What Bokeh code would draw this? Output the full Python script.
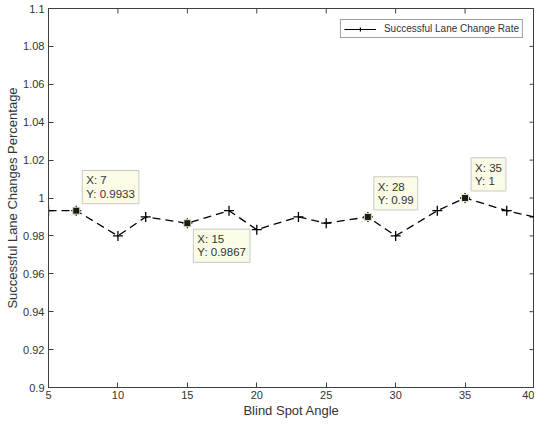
import math
from bokeh.plotting import figure
from bokeh.models import (FixedTicker, CustomJSTickFormatter, Legend,
                          LegendItem, ColumnDataSource, Range1d)
from bokeh.embed import file_html
from bokeh.resources import INLINE
from bokeh.core.properties import value

# ---- data ----
angles = [5, 7, 10, 12, 15, 18, 20, 23, 25, 28, 30, 33, 35, 38, 40]
rates = [0.9933, 0.9933, 0.98, 0.99, 0.9867, 0.9933, 0.9833, 0.99,
         0.9867, 0.99, 0.98, 0.9933, 1.0, 0.9933, 0.99]
x_ticks = [5, 10, 15, 20, 25, 30, 35, 40]
y_ticks = [0.9, 0.92, 0.94, 0.96, 0.98, 1.0, 1.02, 1.04, 1.06, 1.08, 1.1]
tips_above = [7, 28, 35]
tips_below = [15]
series_name = "Successful Lane Change Rate"
x_label = "Blind Spot Angle"
y_label = "Successful Lane Changes Percentage"

FONT = "Liberation Sans"
AX = "#404040"
TXT = "#333333"
X0, X1 = x_ticks[0], x_ticks[-1]
Y0, Y1 = y_ticks[0], y_ticks[-1]

p = figure(width=534, height=420, output_backend="svg", toolbar_location=None,
           x_range=Range1d(X0, X1), y_range=Range1d(Y0, Y1),
           min_border_left=48, min_border_right=0, min_border_top=8,
           min_border_bottom=10, background_fill_color="white",
           border_fill_color="white")
p.grid.visible = False
p.outline_line_color = AX

fmt = CustomJSTickFormatter(code="return tick.toFixed(2).replace(/0+$/,'').replace(/\\.$/,'');")

for ax in (p.xaxis[0], p.yaxis[0]):
    ax.axis_line_color = AX
    ax.major_tick_line_color = AX
    ax.major_tick_in = 5
    ax.major_tick_out = 0
    ax.minor_tick_line_color = None
    ax.major_label_text_font = FONT
    ax.major_label_text_color = TXT
    ax.major_label_text_font_size = "11px"
    ax.major_label_standoff = 4
    ax.axis_label_text_font = FONT
    ax.axis_label_text_color = TXT
    ax.axis_label_text_font_style = "normal"
    ax.axis_label_text_font_size = "13px"
    ax.axis_label_standoff = 2

p.xaxis.ticker = FixedTicker(ticks=x_ticks)
p.yaxis.ticker = FixedTicker(ticks=y_ticks)
p.yaxis.formatter = fmt
p.xaxis.axis_label = x_label
p.yaxis.axis_label = y_label
p.yaxis[0].axis_label_standoff = 0
p.xaxis[0].major_label_standoff = 3
p.xaxis[0].axis_label_standoff = 1

# ticks on top and right edges (box on), pointing inwards
p.ray(x=x_ticks, y=[Y1] * len(x_ticks), length=5, length_units="screen",
      angle=-math.pi / 2, line_color=AX, line_width=1)
p.ray(x=[X1] * len(y_ticks), y=y_ticks, length=5, length_units="screen",
      angle=math.pi, line_color=AX, line_width=1)

src = ColumnDataSource(dict(x=angles, y=rates))
p.line("x", "y", source=src, line_color="black", line_width=1.3, line_dash="8 5")
p.scatter("x", "y", source=src, marker="cross", size=10, line_color="black", line_width=1.3)

# legend-only renderers (solid sample)
leg_line = p.line("x", "y", source=src, line_color="black", line_width=1.2, visible=False)
leg_mark = p.scatter("x", "y", source=src, marker="cross", size=10,
                     line_color="black", line_width=1.2, visible=False)

def tip_source(sel):
    ys = [rates[angles.index(a)] for a in sel]
    txt = [f"X: {a:g}\nY: {r:g}" for a, r in zip(sel, ys)]
    return ColumnDataSource(dict(x=list(sel), y=ys, t=txt))

all_tips = tip_source(tips_above + tips_below)
p.scatter("x", "y", source=all_tips, marker="square", size=7, fill_color="#1a1a1a",
          line_color="#e6e2b8", line_width=1)

for sel, anchor, yoff in ((tips_above, "bottom_left", -7), (tips_below, "top_left", 6)):
    s = tip_source(sel)
    p.text("x", "y", text="t", source=s, anchor=anchor, x_offset=6, y_offset=yoff,
           text_font=value(FONT), text_font_size="11.5px", text_color=TXT,
           text_line_height=1.1, padding=4,
           background_fill_color="#fbfbe6", border_line_color="#c8c8c8",
           border_line_width=1)

legend = Legend(items=[LegendItem(label=series_name, renderers=[leg_line, leg_mark])],
                location="top_right")
legend.margin = 11
legend.padding = 3
legend.spacing = 0
legend.label_height = 10
legend.glyph_height = 10
legend.glyph_width = 32
legend.label_standoff = 8
legend.label_text_font = FONT
legend.label_text_font_size = "10px"
legend.label_text_color = TXT
legend.border_line_color = AX
legend.border_line_width = 1
legend.background_fill_color = "white"
legend.background_fill_alpha = 1
p.add_layout(legend, "center")

open("out.html", "w").write(file_html(p, INLINE))
